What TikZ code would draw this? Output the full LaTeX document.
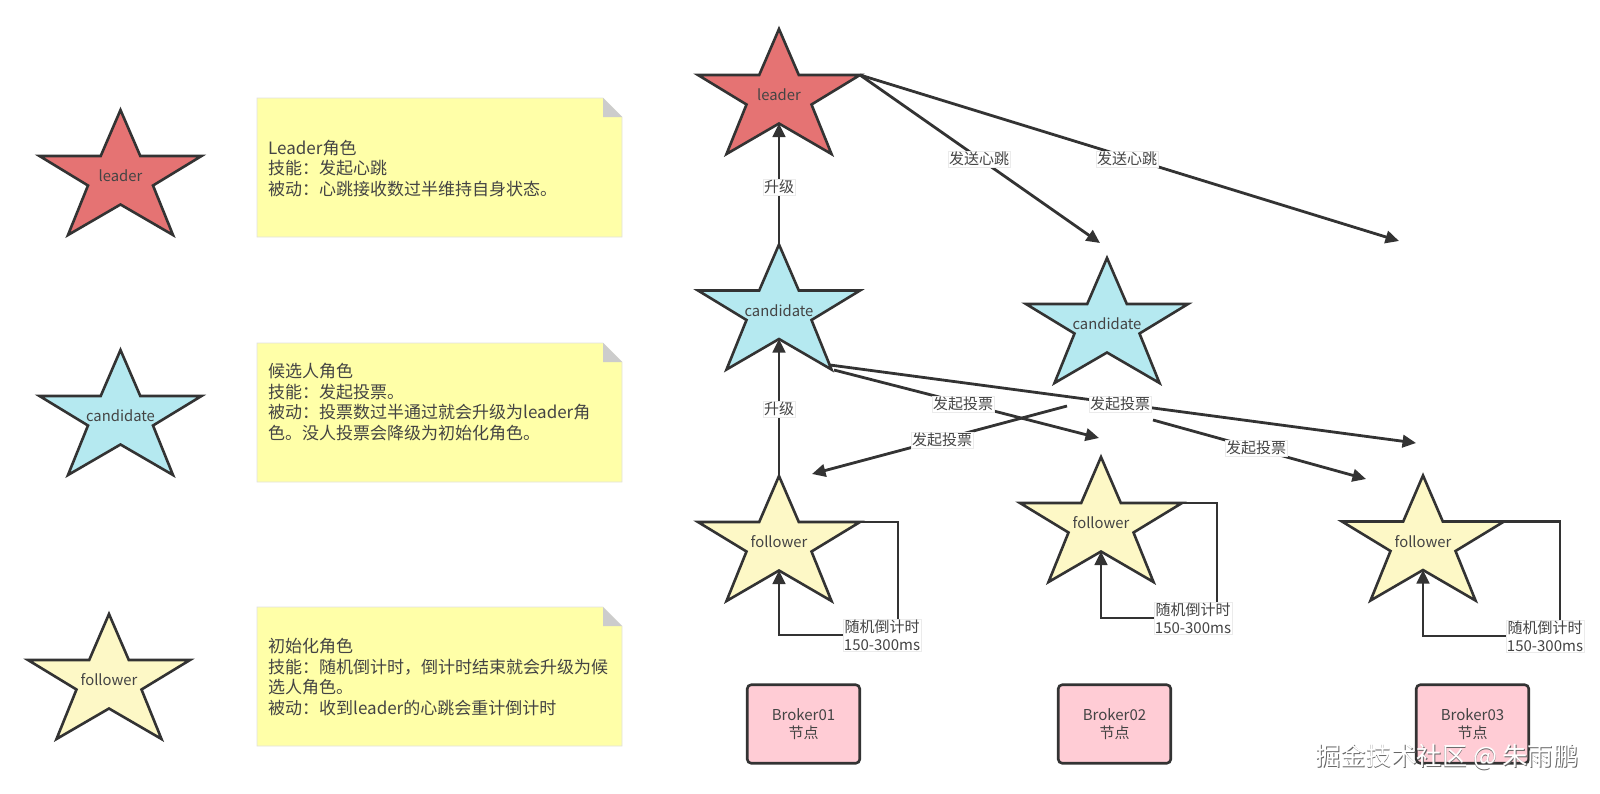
\documentclass[tikz,border=0pt]{standalone}
\usepackage{fontspec}
\setmainfont{Noto Sans CJK SC}
\usetikzlibrary{arrows.meta,calc}
\definecolor{ink}{HTML}{333333}
\definecolor{txt}{HTML}{444444}
\definecolor{redstar}{HTML}{E57373}
\definecolor{bluestar}{HTML}{B5E9F0}
\definecolor{yellowstar}{HTML}{FDF8C6}
\definecolor{notefill}{HTML}{FFFFA8}
\definecolor{brokerfill}{HTML}{FFCCD5}
\tikzset{
  x=1pt,y=-1pt,
  starbody/.style={draw=ink,line width=2.6pt,line join=miter,miter limit=10},
  startext/.style={text=txt,font=\fontsize{14.8}{17}\selectfont,inner sep=0pt},
  conn/.style={draw=ink,line width=2.8pt,-{Triangle[length=13.5pt,width=12.5pt]}},
  connlabel/.style={fill=white,draw=black!8,line width=.6pt,text=txt,inner sep=1pt,align=center,
    font=\fontsize{15}{17.6}\selectfont},
  notebody/.style={fill=notefill,draw=black!12,line width=.6pt},
  notefold/.style={fill=black!20},
  notetext/.style={anchor=north west,align=left,inner sep=0pt,text=txt,
    font=\fontsize{17}{20.7}\selectfont},
  brokerbox/.style={draw=ink,line width=2.6pt,fill=brokerfill,rounded corners=4pt,
    text=txt,align=center,font=\fontsize{15}{18.5}\selectfont,
    minimum width=112.5pt,minimum height=78.5pt,inner sep=0pt},
}
% name, x, y of tip, colour, text
\newcommand\starfig[5]{%
  \path[starbody,fill=#4] (#2,#3) -- ++(19.8,46) -- ++(61.2,0) -- ++(-48.5,29.5) -- ++(20,49.5)
    -- ++(-52.5,-30.5) -- ++(-52.5,30.5) -- ++(20,-49.5) -- ++(-48.5,-29.5) -- ++(61.2,0) -- cycle;
  \coordinate (#1-tip) at (#2,#3);
  \coordinate (#1-r) at ($(#2,#3)+(81,46)$);
  \coordinate (#1-in) at ($(#2,#3)+(0,94.5)$);
  \node[startext] (#1) at ($(#2,#3)+(0,66)$) {#5};
}
% top y of a note
\newcommand\notefig[1]{%
  \path[notebody] (257,#1) -- (603,#1) -- (622,#1+19) -- (622,#1+139) -- (257,#1+139) -- cycle;
  \path[notefold] (603,#1) -- (622,#1+19) -- (603,#1+19) -- cycle;
}
\begin{document}
\begin{tikzpicture}
\useasboundingbox[fill=white] (0,0) rectangle (1600,793);

% left column
\starfig{lleader}{120.5}{110}{redstar}{leader}
\starfig{lcand}{120.5}{350}{bluestar}{candidate}
\starfig{lfollow}{109}{614}{yellowstar}{follower}

\notefig{98}
\notefig{343}
\notefig{607}
\node[notetext] (t1) at (268,139.5) {Leader角色\\技能：发起心跳\\被动：心跳接收数过半维持自身状态。};
\node[notetext] (t2) at (268,363) {候选人角色\\技能：发起投票。\\被动：投票数过半通过就会升级为leader角\\色。没人投票会降级为初始化角色。};
\node[notetext] (t3) at (268,638) {初始化角色\\技能：随机倒计时，倒计时结束就会升级为候\\选人角色。\\被动：收到leader的心跳会重计倒计时};

% right stars
\starfig{leader}{779}{29}{redstar}{leader}
\starfig{cand}{779}{244.5}{bluestar}{candidate}
\starfig{candb}{1107}{258}{bluestar}{candidate}
\starfig{fa}{779}{476}{yellowstar}{follower}
\starfig{fb}{1101}{457}{yellowstar}{follower}
\starfig{fc}{1423}{475.5}{yellowstar}{follower}

% free ends
\coordinate (hb1) at (1100,243);
\coordinate (hb2) at (1399,241);
\coordinate (va0) at (830,365);
\coordinate (va1) at (1416,443);
\coordinate (vb0) at (834,370);
\coordinate (vb1) at (1099,438);
\coordinate (vc0) at (1067,406);
\coordinate (vc1) at (812,474);
\coordinate (vd0) at (1153,420);
\coordinate (vd1) at (1366,479);
\coordinate (la) at (898,635);
\coordinate (lb) at (1217,618);
\coordinate (lc) at (1560,636);

% connectors
\draw[conn] (leader-r) -- (hb1);
\draw[conn] (leader-r) -- (hb2);
\draw[conn] (cand-tip) -- (leader-in);
\draw[conn] (fa-tip) -- (cand-in);
\draw[conn] (va0) -- (va1);
\draw[conn] (vb0) -- (vb1);
\draw[conn] (vc0) -- (vc1);
\draw[conn] (vd0) -- (vd1);
\draw[conn] (fa-r) -| (la) -| (fa-in);
\draw[conn] (fb-r) -| (lb) -| (fb-in);
\draw[conn] (fc-r) -| (lc) -| (fc-in);

% connector labels
\node[connlabel] (l1) at (979,159) {发送心跳};
\node[connlabel] (l2) at (1127,159) {发送心跳};
\node[connlabel] (l3) at (779,187) {升级};
\node[connlabel] (l4) at (779,409) {升级};
\node[connlabel] (l5) at (963,404) {发起投票};
\node[connlabel] (l6) at (1120,404) {发起投票};
\node[connlabel] (l7) at (942,440) {发起投票};
\node[connlabel] (l8) at (1256,448) {发起投票};
\node[connlabel] (l9) at (882,635) {随机倒计时\\150-300ms};
\node[connlabel] (l10) at (1193,618) {随机倒计时\\150-300ms};
\node[connlabel] (l11) at (1545,636) {随机倒计时\\150-300ms};

% brokers
\node[brokerbox] (b1) at (803.5,724) {Broker01\\节点};
\node[brokerbox] (b2) at (1114.5,724) {Broker02\\节点};
\node[brokerbox] (b3) at (1472.5,724) {Broker03\\节点};

% watermark
\node[text=black!60,font=\fontsize{25.3}{28}\selectfont,inner sep=0pt] (wms) at (1447.8,757.8) {掘金技术社区 @ 朱雨鹏};
\node[text=white,font=\fontsize{25.3}{28}\selectfont,inner sep=0pt] (wm) at (1447,757) {掘金技术社区 @ 朱雨鹏};
\end{tikzpicture}
\end{document}
